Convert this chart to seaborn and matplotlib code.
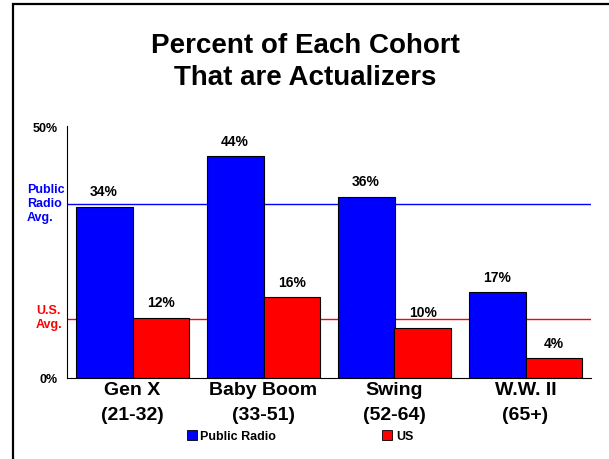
import matplotlib
matplotlib.use("Agg")
import matplotlib.pyplot as plt
import seaborn as sns
import pandas as pd
from matplotlib.patches import Patch, Rectangle

cohorts = ["Gen X\n(21-32)", "Baby Boom\n(33-51)", "Swing\n(52-64)", "W.W. II\n(65+)"]
series = ["Public Radio", "US"]
public_radio = [34, 44, 36, 17]
us = [12, 16, 10, 4]
public_radio_avg = 34.6
us_avg = 11.8
y_ticks = [0, 50]
y_tick_labels = ["0%", "50%"]
colors = {"Public Radio": "#0000FF", "US": "#FF0000"}

df = pd.DataFrame({
    "cohort": cohorts * 2,
    "group": [series[0]] * 4 + [series[1]] * 4,
    "value": public_radio + us,
})

sns.set_theme(style="white")
plt.rcParams["font.family"] = ["Liberation Sans", "DejaVu Sans"]
plt.rcParams["font.weight"] = "bold"
plt.rcParams["text.color"] = "black"

fig = plt.figure(figsize=(6.09, 4.60), dpi=100)
ax = fig.add_axes([67 / 609, 1 - 379 / 460, (591 - 67) / 609, (379 - 127) / 460])

sns.barplot(data=df, x="cohort", y="value", hue="group", palette=colors,
            order=cohorts, hue_order=series, width=0.87, gap=0, saturation=1,
            edgecolor="black", linewidth=0.8, legend=False, ax=ax)

for cont in ax.containers:
    ax.bar_label(cont, labels=[f"{v:.0f}%" for v in cont.datavalues],
                 padding=6, fontsize=10, fontweight="bold", color="black")

# Average reference lines
ax.axhline(public_radio_avg, color="#0000FF", lw=1.0, zorder=0.5)
ax.axhline(us_avg, color="#FF0000", lw=1.0, zorder=0.5)

ax.set_xlim(-0.5, 3.5)
ax.set_ylim(0, 50)
ax.set_xlabel("")
ax.set_ylabel("")
ax.set_yticks(y_ticks)
ax.set_yticklabels(y_tick_labels, fontsize=9, fontweight="bold", color="black")
ax.set_xticks([0, 1, 2, 3])
ax.set_xticklabels(cohorts, fontsize=14, fontweight="bold", linespacing=1.6, color="black")
ax.set_xticks([-0.5, 0.5, 1.5, 2.5, 3.5], minor=True)
ax.tick_params(axis="x", which="major", length=0, pad=2)
ax.tick_params(axis="x", which="minor", length=4, width=0.8, color="black", direction="out")
ax.tick_params(axis="y", length=5, width=0.8, color="black", direction="out", pad=2)

for side in ["top", "right"]:
    ax.spines[side].set_visible(False)
for side in ["left", "bottom"]:
    ax.spines[side].set_color("black")
    ax.spines[side].set_linewidth(0.8)

# Side annotations for the average lines
fig.text(27 / 609, 1 - 204 / 460, "Public\nRadio\nAvg.", color="#0000FF",
         fontsize=9, fontweight="bold", ha="left", va="center", linespacing=1.25)
fig.text(36 / 609, 1 - 318 / 460, "U.S.\nAvg.", color="#FF0000",
         fontsize=9, fontweight="bold", ha="left", va="center", linespacing=1.25)

fig.text(305 / 609, 1 - 62 / 460, "Percent of Each Cohort\nThat are Actualizers",
         fontsize=20, fontweight="bold", ha="center", va="center", linespacing=1.28,
         color="black")

handles = [Patch(facecolor=colors[s], edgecolor="black", linewidth=0.6) for s in series]
fig.legend(handles, series, loc="center", bbox_to_anchor=(300 / 609, 1 - 437 / 460),
           ncol=2, frameon=False, prop={"size": 9, "weight": "bold"},
           handlelength=0.8, handleheight=0.8, handletextpad=0.3, columnspacing=8.5)

# Slide frame
fig.patches.append(Rectangle((13 / 609, -0.1), 1.2, 1 - 5 / 460 + 0.1,
                             transform=fig.transFigure, fill=False,
                             edgecolor="black", linewidth=1.6))

fig.savefig("out.png", dpi=100)
